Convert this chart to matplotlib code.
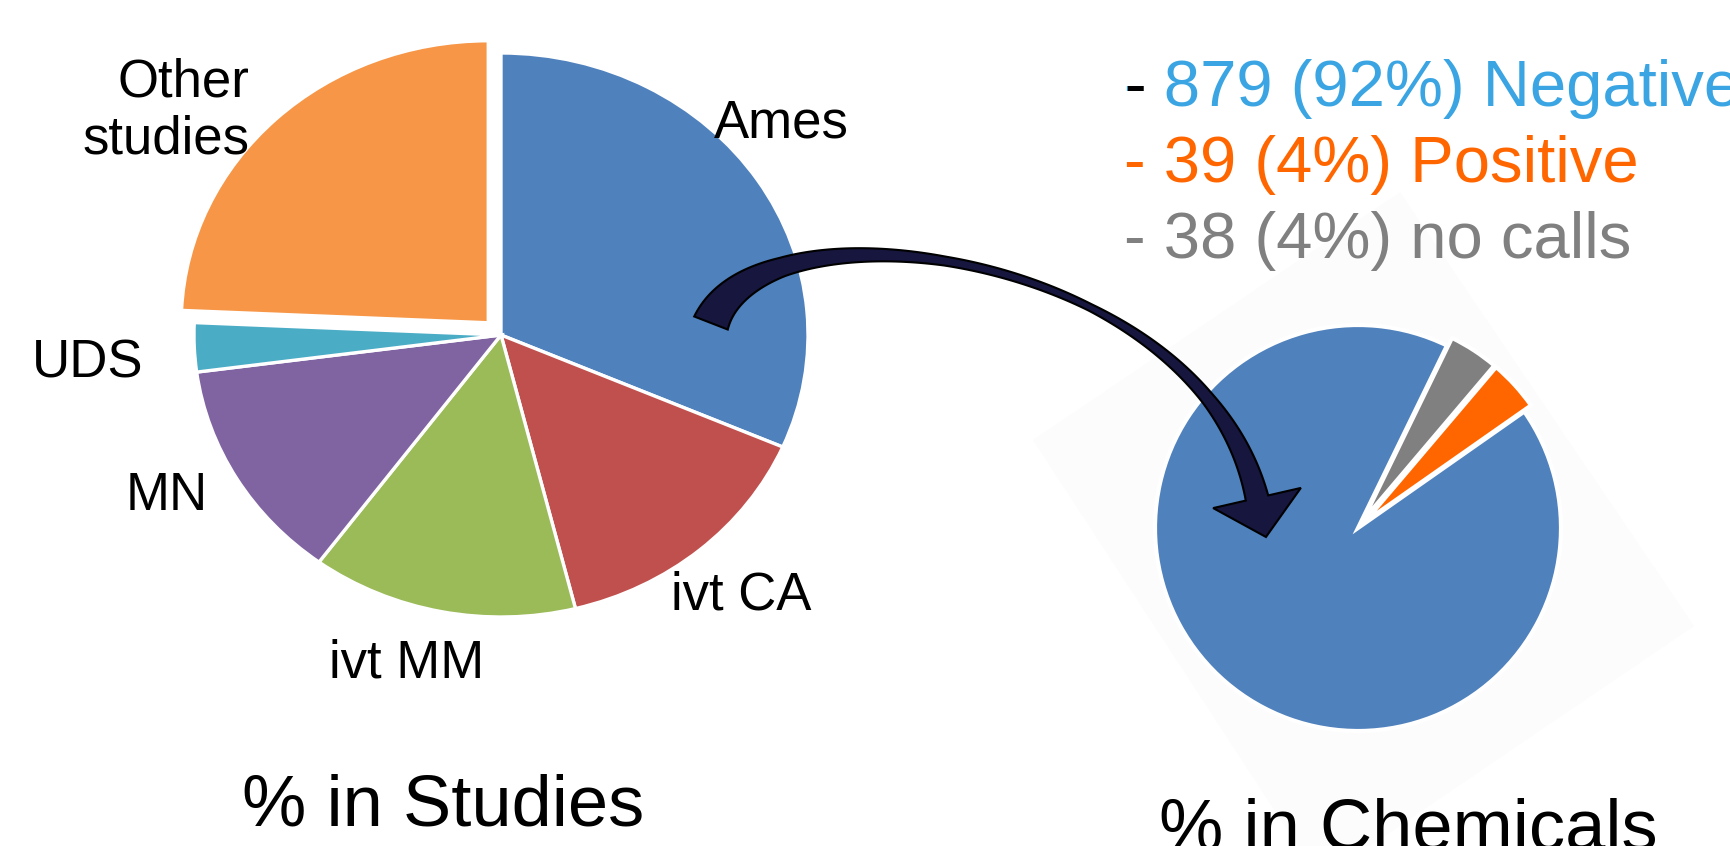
import numpy as np
import matplotlib
matplotlib.use("Agg")
import matplotlib.pyplot as plt
from matplotlib.patches import Polygon

plt.rcParams['font.family'] = ['Liberation Sans', 'DejaVu Sans']

W, H = 1730, 846
DPI = 100

# left pie - share of studies per assay
study_types = ['Ames', 'ivt CA', 'ivt MM', 'MN', 'UDS', 'Other\nstudies']
study_pct = [31.5, 14.6, 14.0, 12.8, 2.8, 24.3]
study_colors = ['#4F81BD', '#C0504D', '#9BBB59', '#8064A2', '#4BACC6', '#F79646']
study_explode = [0, 0, 0, 0, 0, 0.06]

# right pie - Ames calls per chemical
call_types = ['Negative', 'Positive', 'no calls']
call_counts = [879, 39, 38]
call_colors = ['#4F81BD', '#FF6600', '#808080']
call_text_colors = ['#3AA5E2', '#FF6600', '#808080']
call_explode = [0, 0.045, 0.045]

fig = plt.figure(figsize=(W / DPI, H / DPI), dpi=DPI)


def pie_axes(cx, cy, rx, ry, pad=1.25):
    # axes placed in pixel units so the pie lands where it should
    rect = [(cx - pad * rx) / W, 1 - (cy + pad * ry) / H, 2 * pad * rx / W, 2 * pad * ry / H]
    ax = fig.add_axes(rect)
    return ax, pad


def px_axes(z):
    ax = fig.add_axes([0, 0, 1, 1])
    ax.set_xlim(0, W)
    ax.set_ylim(H, 0)
    ax.axis('off')
    ax.patch.set_alpha(0)
    ax.set_zorder(z)
    return ax


# faint backdrop behind the right pie
bg = px_axes(-5)
bg.add_patch(Polygon([(1033, 440), (1400, 192), (1694, 626), (1320, 880)],
                     closed=True, facecolor='#FCFCFC', edgecolor='none'))

# ---- left pie
ax1, pad1 = pie_axes(501, 335, 307, 282)
ax1.pie(study_pct, colors=study_colors, explode=study_explode, startangle=90,
        counterclock=False, wedgeprops=dict(edgecolor='white', linewidth=2.4))
ax1.set_aspect('auto')
ax1.set_xlim(-pad1, pad1)
ax1.set_ylim(-pad1, pad1)
ax1.axis('off')

# ---- right pie
ax2, pad2 = pie_axes(1358, 528, 203, 203)
ax2.pie(call_counts, colors=call_colors, explode=call_explode, startangle=64,
        counterclock=True, wedgeprops=dict(edgecolor='white', linewidth=3))
ax2.set_aspect('auto')
ax2.set_xlim(-pad2, pad2)
ax2.set_ylim(-pad2, pad2)
ax2.axis('off')

ov = px_axes(10)

# category labels round the left pie (x, baseline y, alignment)
label_pos = [(714, 138, 'left'), (671, 609, 'left'), (329, 677, 'left'),
             (126, 510, 'left'), (32, 378, 'left'), (249, 154, 'right')]
for name, (x, y, ha) in zip(study_types, label_pos):
    ov.text(x, y, name, fontsize=38, ha=ha, va='baseline', multialignment='right',
            linespacing=1.2, color='black')

ov.text(443, 826, '% in Studies', fontsize=52, ha='center', va='baseline')
ov.text(1408, 850, '% in Chemicals', fontsize=52, ha='center', va='baseline')

# counts listed above the right pie
total = sum(call_counts)
line_y = [106, 182, 258]
for name, n, c, y in zip(call_types, call_counts, call_text_colors, line_y):
    pct = round(100 * n / total)
    ov.text(1124, y, f'- {n} ({pct}%) {name}', fontsize=47, color=c,
            ha='left', va='baseline')
ov.text(1124, line_y[0], '-', fontsize=47, color='black', ha='left', va='baseline')

# curved arrow from the Ames slice to the chemicals pie
P = np.array([(711, 323), (762, 192), (1200, 250), (1257, 498)], float)
t = np.linspace(0, 1, 150)[:, None]
curve = ((1 - t) ** 3 * P[0] + 3 * (1 - t) ** 2 * t * P[1]
         + 3 * (1 - t) * t ** 2 * P[2] + t ** 3 * P[3])
deriv = (3 * (1 - t) ** 2 * (P[1] - P[0]) + 6 * (1 - t) * t * (P[2] - P[1])
         + 3 * t ** 2 * (P[3] - P[2]))
tang = deriv / np.linalg.norm(deriv, axis=1, keepdims=True)
norm = np.column_stack([-tang[:, 1], tang[:, 0]])
width = np.interp(t[:, 0], [0, 0.2, 0.45, 0.65, 0.85, 1], [36, 19, 9, 7, 13, 23])
side_a = curve + norm * width[:, None] / 2
side_b = curve - norm * width[:, None] / 2
u, nn = tang[-1], norm[-1]
head = [P[3] + nn * 45, P[3] + u * 40, P[3] - nn * 45]
shape = np.vstack([side_a, head, side_b[::-1]])
ov.add_patch(Polygon(shape, closed=True, facecolor='#16163F', edgecolor='black',
                     linewidth=1.5, joinstyle='miter'))

fig.savefig('out.png', dpi=DPI)
